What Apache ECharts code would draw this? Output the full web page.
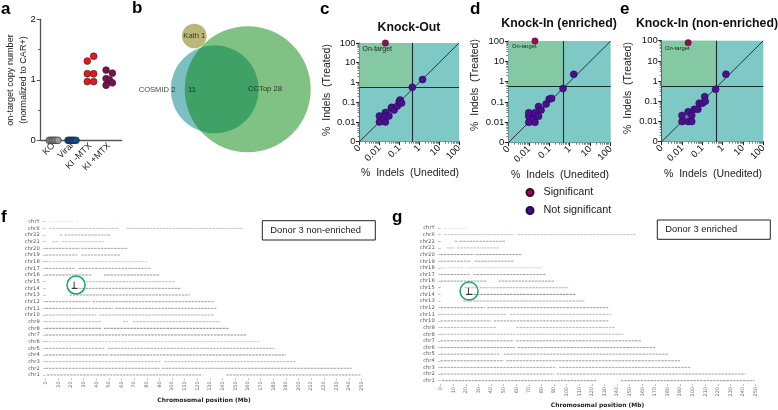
<!DOCTYPE html>
<html><head><meta charset="utf-8">
<style>html,body{margin:0;padding:0;background:#fff}#c{width:778px;height:410px}</style>
<script src="https://cdn.jsdelivr.net/npm/echarts@6/dist/echarts.min.js"></script>
</head><body><div id="c"></div>
<script>
// ---------- data ----------
const aGroups = ['KO', 'Viral', 'KI -MTX', 'KI +MTX'];
const aKO = [[0.78,0],[0.88,0],[0.97,0],[1.05,0],[1.14,0],[1.25,0]];
const aViral = [[1.79,0],[1.87,0],[1.95,0],[2.03,0],[2.11,0],[2.22,0]];
const aKIminus = [[2.83,1.31],[3.17,1.39],[2.83,1.10],[3.17,1.10],[2.83,0.97],[3.17,0.97]];
const aKIplus = [[3.84,1.16],[4.18,1.11],[3.84,1.02],[4.02,1.00],[4.18,0.95],[3.84,0.91]];

const vennCircles = [
  {name:'COSMID', x:214.7, y:89.3, r:44},
  {name:'CCTop', x:247.7, y:89.3, r:63},
  {name:'Kath', x:194.3, y:36, r:12.3}
];
const vennLabels = [
  ['Kath 1',194.3,36],['COSMID 2',157,90],['11',192,89.5],['CCTop 28',265,88.5]
];

const cOn = [[0.02,100]];
const cOff = [[1.47,1.4],[0.45,0.57],[0.01,0.01],[0.01,0.02],[0.02,0.01],[0.02,0.03],[0.02,0.02],[0.03,0.02],[0.04,0.05],[0.042,0.055],[0.055,0.04],[0.08,0.065],[0.1,0.11],[0.11,0.13],[0.13,0.09]];
const dOn = [[0.02,100]];
const dOff = [[1.57,2.3],[0.47,0.46],[0.01,0.01],[0.01,0.02],[0.01,0.03],[0.02,0.01],[0.02,0.02],[0.02,0.03],[0.03,0.06],[0.03,0.02],[0.04,0.04],[0.07,0.08],[0.1,0.14],[0.13,0.15]];
const eOn = [[0.02,80]];
const eOff = [[1.45,2.2],[0.45,0.39],[0.01,0.01],[0.01,0.02],[0.02,0.01],[0.03,0.01],[0.02,0.03],[0.03,0.02],[0.04,0.04],[0.06,0.04],[0.07,0.08],[0.1,0.08],[0.13,0.17],[0.14,0.1]];
const cCut = [0.45,0.55], dCut = [0.46,0.57], eCut = [0.46,0.58];

const chrNames = ['chr1','chr2','chr3','chr4','chr5','chr6','chr7','chr8','chr9','chr10','chr11','chr12','chr13','chr14','chr15','chr16','chr17','chr18','chr19','chr20','chr21','chr22','chrX','chrY'];
const posTicks = [0,10,20,30,40,50,60,70,80,90,100,110,120,130,140,150,160,170,180,190,200,210,220,230,240,250];
const fSegments = [
 [[1,124],[143,249]],[[0,90],[92,242]],[[0,91],[94,198]],[[0,50],[51,190]],[[0,47],[49,181]],
 [[0,59],[60,170]],[[0,59],[60,159]],[[0,44],[46,145]],[[0,44],[61,65],[69,138]],[[0,40],[42,133]],
 [[0,53],[55,135]],[[0,35],[37,133]],[[19,114]],[[21,107]],[[32,102]],[[0,36],[46,90]],
 [[0,23],[26,83]],[[0,20],[21,80]],[[0,25],[28,59]],[[0,27],[28,65]],[[5,11],[13,47]],[[11,13],[15,51]],
 [[3,58],[64,156]],[[3,22],[24,26],[56,56.6]]
];
const fShade = [.75,.7,.55,.85,.65,.4,.85,.9,.55,.6,.75,.7,.75,.75,.55,.8,.7,.4,.7,.7,.45,.65,.5,.25];
const gSegments = [
 [[1,124],[143,249]],[[0,90],[92,242]],[[0,91],[94,198]],[[0,50],[52,190]],[[0,47],[50,181]],
 [[0,59],[61,170]],[[0,58],[60,159]],[[0,59],[60,145]],[[0,44],[60,138]],[[0,40],[42,133]],
 [[0,52],[55,135]],[[0,35],[37,133]],[[18,114]],[[21,107]],[[19,28],[31,102]],[[0,36],[46,90]],
 [[0,23],[26,83]],[[0,19],[21,80]],[[0,24],[27,58]],[[0,27],[28,64]],[[5,11],[13,46]],[[11,13],[15,51]],
 [[3,58],[61,155]],[[3,22],[26,26.6],[56,56.6]]
];
const gShade = [.8,.7,.65,.75,.7,.7,.75,.55,.55,.75,.55,.75,.65,.9,.6,.75,.7,.35,.7,.75,.5,.7,.45,.3];
const fMark = {x:22.5, top:15, low:14, from:20.5, to:25, circle:[24,14.5]};
const gMark = {x:22, top:15, low:14, from:20, to:25, circle:[22.5,14.5]};

// ---------- build ----------
const FONT = '"Liberation Sans", Arial, sans-serif';
const grids=[], xAxes=[], yAxes=[], series=[], graphics=[];
const C_SIG='#8f0f52', C_NOT='#4b0e90', C_TEAL='#7ec8c6', C_GREEN='#84c8a4';

function panel(g,x,y){ grids.push(g); const i=grids.length-1; xAxes.push(Object.assign({gridIndex:i},x)); yAxes.push(Object.assign({gridIndex:i},y)); return i; }
function text(t,x,y,size,opt){ graphics.push({type:'text',silent:true,x,y,z:50,style:Object.assign({text:t,font:(opt&&opt.weight||'normal')+' '+size+'px '+FONT,fill:'#111',textAlign:'left',textVerticalAlign:'middle'},opt||{})}); }

// panel a
{
 const i=panel({left:40.7,top:19.3,width:81,height:121},
  {type:'value',min:0.32,max:4.68,axisLine:{lineStyle:{color:'#555',width:1.3}},splitLine:{show:false},
   axisTick:{show:false},axisLabel:{customValues:[1,2,3,4],rotate:45,fontSize:9,color:'#222',margin:4,fontFamily:FONT,formatter:v=>aGroups[Math.round(v)-1]}},
  {type:'value',min:0,max:2,interval:1,axisLine:{show:true,lineStyle:{color:'#555',width:1.3}},splitLine:{show:false},
   axisTick:{show:true,length:4,lineStyle:{color:'#555'}},minorTick:{show:true,splitNumber:2,length:2.5,lineStyle:{color:'#555'}},minorSplitLine:{show:false},
   axisLabel:{fontSize:9.5,color:'#111',margin:5,fontFamily:FONT}});
 [[aKO,'#9a9a9a'],[aViral,'#0f4c8f'],[aKIminus,'#f01414'],[aKIplus,'#7c0f52']].forEach(([d,col])=>{
  series.push({type:'scatter',xAxisIndex:i,yAxisIndex:i,data:d,symbolSize:6.8,clip:false,z:5,itemStyle:{color:col,borderColor:'#222',borderWidth:.6,opacity:1}});
 });
}
// panel b on a hidden pixel-like scale
{
 const i=panel({left:130,top:0,width:190,height:190},
  {type:'value',min:130,max:320,show:false,splitLine:{show:false}},
  {type:'value',min:0,max:190,inverse:true,show:false,splitLine:{show:false}});
 const fills={COSMID:'#7cbfc0',CCTop:'rgba(1,131,9,.5)',Kath:'#bab878'};
 vennCircles.forEach((c,k)=>series.push({type:'scatter',xAxisIndex:i,yAxisIndex:i,z:2+k,data:[[c.x,c.y]],symbolSize:c.r*2,itemStyle:{color:fills[c.name],opacity:1},silent:true}));
 series.push({type:'scatter',xAxisIndex:i,yAxisIndex:i,z:9,silent:true,symbolSize:0,data:vennLabels.map(l=>({value:[l[1],l[2]],name:l[0]})),
  label:{show:true,position:'inside',formatter:'{b}',fontSize:7.6,color:'#111',fontFamily:FONT}});
}
// panels c,d,e
function logPanel(g,on,off,cut){
 const ax={type:'log',logBase:10,min:.001,max:100,splitLine:{show:false},
   axisLine:{show:true,onZero:false,lineStyle:{color:'#222',width:1}},axisTick:{show:true,length:3.5,lineStyle:{color:'#222'}},
   minorTick:{show:true,splitNumber:9,length:2,lineStyle:{color:'#222',width:.6}},minorSplitLine:{show:false}};
 const fmt=v=>{const n=+v; return n<=.0011?'0':(n<1?String(+n.toFixed(3)):String(Math.round(n)));};
 const i=panel(g,
  Object.assign({},ax,{axisLabel:{rotate:45,fontSize:9.5,color:'#111',margin:5,fontFamily:FONT,formatter:fmt,showMinLabel:true,showMaxLabel:true}}),
  Object.assign({},ax,{axisLabel:{fontSize:9.5,color:'#111',margin:4,fontFamily:FONT,formatter:fmt,showMinLabel:true,showMaxLabel:true}}));
 series.push({type:'line',xAxisIndex:i,yAxisIndex:i,z:3,silent:true,symbol:'none',lineStyle:{color:'#222',width:.9},
  data:[[.001,.001],[100,100]],
  markArea:{silent:true,z:1,itemStyle:{opacity:1},data:[
   [{coord:[.001,.001],itemStyle:{color:C_TEAL}},{coord:[100,100]}],
   [{coord:[.001,cut[1]],itemStyle:{color:C_GREEN}},{coord:[cut[0],100]}]]},
  markLine:{silent:true,symbol:'none',z:3,label:{show:false},animation:false,lineStyle:{color:'#1a2a2a',width:1.1,type:'solid'},
   data:[[{coord:[cut[0],.001]},{coord:[cut[0],100]}],[{coord:[.001,cut[1]]},{coord:[100,cut[1]]}]]}});
 series.push({type:'scatter',name:'Not significant',xAxisIndex:i,yAxisIndex:i,z:6,data:off,symbolSize:7,clip:false,itemStyle:{color:C_NOT,borderColor:'#1e0a4a',borderWidth:.5,opacity:1}});
 series.push({type:'scatter',name:'Significant',xAxisIndex:i,yAxisIndex:i,z:6,data:on,symbolSize:6.4,clip:false,itemStyle:{color:C_SIG,borderColor:'#3a0a2a',borderWidth:.4,opacity:1}});
}
logPanel({left:359.5,top:43,width:99.5,height:98.7},cOn,cOff,cCut);
logPanel({left:508.3,top:41,width:102.4,height:101.7},dOn,dOff,dCut);
logPanel({left:661.7,top:40.7,width:101.6,height:101},eOn,eOff,eCut);

// panels f,g
function chromPanel(g,segs,shade,mark){
 const DJ='"DejaVu Sans", sans-serif';
 const i=panel(g,
  {type:'value',min:0,max:250,axisLine:{show:false},splitLine:{show:false},
   axisTick:{show:true,length:2,customValues:posTicks,lineStyle:{color:'#999',width:.6}},
   axisLabel:{customValues:posTicks,rotate:90,fontSize:5,color:'#666',margin:3,fontFamily:DJ}},
  {type:'value',min:.5,max:24,offset:2.5,axisLine:{show:false},splitLine:{show:false},
   axisTick:{show:true,length:2.5,customValues:chrNames.map((_,k)=>k+1),lineStyle:{color:'#999',width:.6}},
   axisLabel:{customValues:chrNames.map((_,k)=>k+1),fontSize:5.2,color:'#555',margin:3.5,fontFamily:DJ,formatter:v=>chrNames[Math.round(v)-1]}});
 segs.forEach((ss,k)=>{
  const d=[]; ss.forEach(s=>{d.push([s[0],k+1],[s[1],k+1],[null,null]);});
  series.push({type:'line',xAxisIndex:i,yAxisIndex:i,z:2,silent:true,symbol:'none',connectNulls:false,data:d,
   lineStyle:{color:'#444',width:.7,opacity:shade[k],type:[2.5,.8]}});
 });
 series.push({type:'line',xAxisIndex:i,yAxisIndex:i,z:4,silent:true,symbol:'none',data:[[mark.x,mark.top],[mark.x,mark.low]],lineStyle:{color:'#000',width:.8}});
 series.push({type:'line',xAxisIndex:i,yAxisIndex:i,z:4,silent:true,symbol:'none',data:[[mark.from,mark.low],[mark.to,mark.low]],lineStyle:{color:'#000',width:.8}});
 series.push({type:'scatter',xAxisIndex:i,yAxisIndex:i,z:5,silent:true,data:[mark.circle],symbolSize:18,itemStyle:{color:'rgba(0,0,0,0)',borderColor:'#17a85a',borderWidth:1.5,opacity:1}});
}
chromPanel({left:45.7,width:316,top:221.7,height:156.6},fSegments,fShade,fMark);
chromPanel({left:440.7,width:315,top:228,height:156},gSegments,gShade,gMark);

// text: panel letters
[['a',1,9],['b',132,8],['c',320,9],['d',470,9],['e',620,9],['f',1,217],['g',392,217]].forEach(p=>text(p[0],p[1],p[2],17,{weight:'bold',fill:'#000'}));
// titles
[['Knock-Out',409,28],['Knock-In (enriched)',559,24],['Knock-In (non-enriched)',707,24]].forEach(p=>text(p[0],p[1],p[2],12.3,{weight:'bold',textAlign:'center'}));
// axis names
[['%  Indels  (Unedited)',410,173.5],['%  Indels  (Unedited)',560,175.5],['%  Indels  (Unedited)',713,174]].forEach(p=>text(p[0],p[1],p[2],10.5,{textAlign:'center',fill:'#222'}));
[[327.5,90],[475,85],[628,88]].forEach(p=>graphics.push({type:'text',silent:true,x:p[0],y:p[1],rotation:Math.PI/2,z:50,style:{text:'%  Indels  (Treated)',font:'10.5px '+FONT,fill:'#222',textAlign:'center',textVerticalAlign:'middle'}}));
graphics.push({type:'text',silent:true,x:17,y:80,rotation:Math.PI/2,z:50,style:{text:'on-target copy number\n(normalized to CAR+)',font:'9.1px '+FONT,fill:'#222',textAlign:'center',textVerticalAlign:'middle',lineHeight:13}});
// on-target tags
[[362.5,49,7],[512,46,5.8],[665,48,5.8]].forEach(p=>text('On-target',p[0],p[1],p[2],{fill:'#222'}));
// chromosome axis names
[['Chromosomal position (Mb)',204,400.5],['Chromosomal position (Mb)',597.5,405.5]].forEach(p=>graphics.push({type:'text',silent:true,x:p[1],y:p[2],z:50,style:{text:p[0],font:'bold 6px "DejaVu Sans", sans-serif',fill:'#222',textAlign:'center',textVerticalAlign:'middle'}}));
// donor boxes
[['Donor 3 non-enriched',262.3,220.7,113,19.3],['Donor 3 enriched',657.3,220,113,19.3]].forEach(p=>{
 graphics.push({type:'rect',silent:true,z:40,shape:{x:p[1],y:p[2],width:p[3],height:p[4]},style:{fill:'#fff',stroke:'#222',lineWidth:1}});
 text(p[0],p[1]+8,p[2]+9.8,9.4,{fill:'#222'});
});

const chart=echarts.init(document.getElementById('c'),null,{renderer:'canvas'});
chart.setOption({
 animation:false,backgroundColor:'#fff',tooltip:{show:false},
 grid:grids,xAxis:xAxes,yAxis:yAxes,series,
 legend:{data:['Significant','Not significant'],orient:'vertical',padding:0,left:525.5,top:187,itemWidth:7,itemHeight:7,itemGap:7,icon:'circle',selectedMode:false,
  textStyle:{fontSize:10.8,color:'#222',fontFamily:FONT,padding:[0,0,0,5]}},
 graphic:{elements:graphics}
});
</script></body></html>
